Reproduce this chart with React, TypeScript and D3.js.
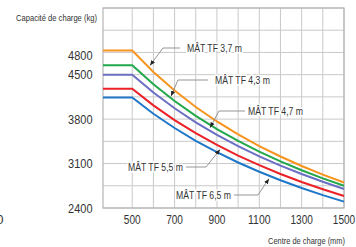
import * as d3 from 'd3'

// centre de charge (mm) – first point is the left edge of the plot
const centreMm = [362, 500, 600, 700, 800, 900, 1000, 1100, 1200, 1300, 1400, 1500]

const mat37 = [4880, 4880, 4543, 4249, 3991, 3763, 3559, 3376, 3211, 3062, 2925, 2801]
const mat43 = [4650, 4650, 4349, 4085, 3851, 3643, 3456, 3287, 3134, 2994, 2867, 2750]
const mat47 = [4500, 4500, 4219, 3971, 3750, 3553, 3375, 3214, 3068, 2935, 2813, 2700]
const mat55 = [4280, 4280, 4017, 3785, 3578, 3393, 3226, 3074, 2936, 2810, 2695, 2588]
const mat65 = [4140, 4140, 3885, 3660, 3459, 3279, 3117, 2971, 2837, 2715, 2603, 2500]

const seriesNames = ['MÂT TF 3,7 m', 'MÂT TF 4,3 m', 'MÂT TF 4,7 m', 'MÂT TF 5,5 m', 'MÂT TF 6,5 m']
const seriesValues = [mat37, mat43, mat47, mat55, mat65]
const seriesColors = ['#f7941d', '#22a84a', '#6b6fc4', '#ec2027', '#1f77c9']

const xTicks = [500, 700, 900, 1100, 1300, 1500]
const xGrid = [500, 600, 700, 800, 900, 1000, 1100, 1200, 1300, 1400, 1500]
const yTicks = [2400, 3100, 3800, 4500, 4800]
const yGrid = [2400, 2750, 3100, 3450, 3800, 4150, 4500, 4850, 5200, 5550]

// callout layout (pixels): tip x on the curve, tip offset, elbow, line end, text anchor
const callouts = [
  { tipX: 150, dy: -3, elbow: [163, 48], lineEnd: 180, textX: 187, anchor: 'start' },
  { tipX: 171, dy: -2, elbow: [178, 80], lineEnd: 208, textX: 215, anchor: 'start' },
  { tipX: 210, dy: -3, elbow: [219, 111], lineEnd: 245, textX: 248, anchor: 'start' },
  { tipX: 220, dy: 3, elbow: [206, 167], lineEnd: 186, textX: 183, anchor: 'end' },
  { tipX: 269, dy: 3, elbow: [258, 195], lineEnd: 234, textX: 231, anchor: 'end' },
]

const W = 356
const H = 247
const FONT = '"Liberation Sans", Arial, sans-serif'

export default function App() {
  const x = d3.scaleLinear().domain([362, 1500]).range([103, 344])
  const y = d3.scaleLinear().domain([2400, 5550]).range([208, 8])

  const line = d3.line<number>()
    .x((_, i) => x(centreMm[i]))
    .y(d => y(d))

  const valueAt = (vals: number[], px: number) => {
    const mm = x.invert(px)
    const i = Math.max(1, d3.bisectLeft(centreMm, mm))
    const t = (mm - centreMm[i - 1]) / (centreMm[i] - centreMm[i - 1])
    return vals[i - 1] + t * (vals[i] - vals[i - 1])
  }

  // condensed look: squeeze Liberation Sans glyphs
  const digitW = 6.1

  return (
    <div style={{ position: 'fixed', left: 0, top: 0, width: W, height: H, background: '#fff' }}>
      <svg width={W} height={H} style={{ display: 'block', fontFamily: FONT }}>
        <defs>
          <marker id="arr" viewBox="0 0 10 10" refX="10" refY="5" markerWidth="6" markerHeight="6" orient="auto">
            <path d="M0,1 L10,5 L0,9 Z" fill="#222" />
          </marker>
        </defs>

        {/* grid */}
        <g stroke="#c9c9c9" strokeWidth={1}>
          {xGrid.map(v => (
            <line key={'gx' + v} x1={x(v)} x2={x(v)} y1={y(5550)} y2={y(2400)} />
          ))}
          {yGrid.map(v => (
            <line key={'gy' + v} x1={103} x2={344} y1={y(v)} y2={y(v)} />
          ))}
        </g>
        <rect x={103} y={y(5550)} width={241} height={y(2400) - y(5550)} fill="none" stroke="#b5b5b5" strokeWidth={1.2} />

        {/* curves */}
        {seriesValues.map((vals, i) => (
          <path key={seriesNames[i]} d={line(vals) || ''} fill="none" stroke={seriesColors[i]} strokeWidth={2} />
        ))}

        {/* callouts */}
        {callouts.map((c, i) => {
          const tipY = y(valueAt(seriesValues[i], c.tipX)) + c.dy
          return (
            <g key={'c' + i}>
              <polyline
                points={`${c.lineEnd},${c.elbow[1]} ${c.elbow[0]},${c.elbow[1]} ${c.tipX},${tipY}`}
                fill="none" stroke="#8a8a8a" strokeWidth={0.9} markerEnd="url(#arr)"
              />
              <text x={c.textX} y={c.elbow[1]} dy="0.35em" textAnchor={c.anchor}
                fontSize={10} fill="#333" stroke="#fff" strokeWidth={3} paintOrder="stroke"
                textLength={55} lengthAdjust="spacingAndGlyphs">
                {seriesNames[i]}
              </text>
            </g>
          )
        })}

        {/* y axis labels */}
        {yTicks.map(v => (
          <text key={'yt' + v} x={92.5} y={y(v)} dy="0.36em" textAnchor="end" fontSize={12.5} fill="#333"
            textLength={String(v).length * digitW} lengthAdjust="spacingAndGlyphs">{v}</text>
        ))}
        <text x={97} y={18} dy="0.35em" textAnchor="end" fontSize={9.5} fill="#333"
          textLength={81} lengthAdjust="spacingAndGlyphs">Capacité de charge (kg)</text>

        {/* x axis labels */}
        {xTicks.map(v => (
          <text key={'xt' + v} x={x(v)} y={224} textAnchor="middle" fontSize={12.5} fill="#333"
            textLength={String(v).length * 5.6} lengthAdjust="spacingAndGlyphs">{v}</text>
        ))}
        <text x={3.5} y={224} textAnchor="end" fontSize={12.5} fill="#333">0</text>
        <text x={345} y={241} dy="0.35em" textAnchor="end" fontSize={9.5} fill="#333"
          textLength={77} lengthAdjust="spacingAndGlyphs">Centre de charge (mm)</text>
      </svg>
    </div>
  )
}
